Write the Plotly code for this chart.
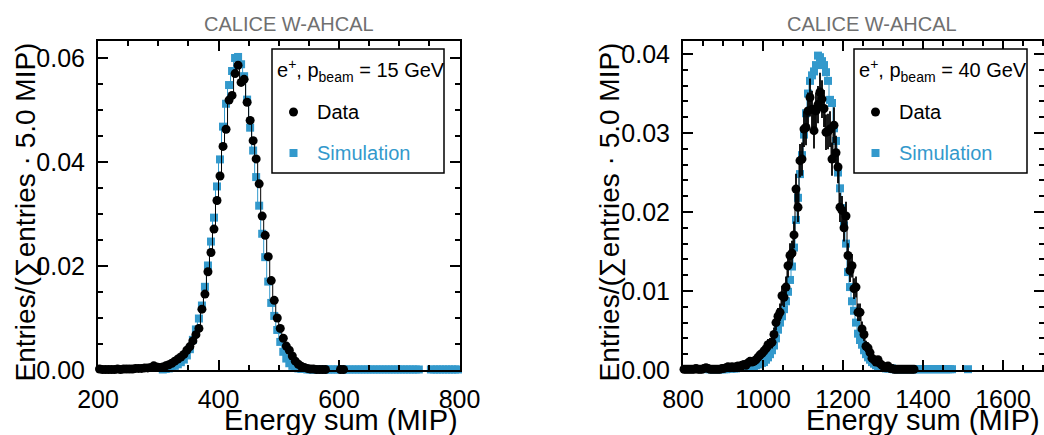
import numpy as np
import plotly.graph_objects as go

W, H = 1044, 435
BLUE = "#3399cc"
FONT = "Liberation Sans, Arial, Helvetica, sans-serif"

BIN_WIDTH = 5.0  # MIP per bin

# ---- e+ 15 GeV: normalised energy-sum spectra (bin centres 202.5 ... 797.5 MIP)
bins_15 = np.arange(202.5, 800.0, BIN_WIDTH)
data_15 = [
    0.0002, 0.0001, 0.0001, 0.0001, 0.0001, 0.0001, 0.0002, 0.0001, 0.0002, 0.0002,
    0.0002, 0.0002, 0.0003, 0.0003, 0.0003, 0.0004, 0.0004, 0.0005, 0.0008, 0.0006,
    0.0005, 0.0006, 0.0008, 0.0010, 0.0013, 0.0017, 0.0021, 0.0025, 0.0030, 0.0038,
    0.0045, 0.0056, 0.0068, 0.0080, 0.0117, 0.0146, 0.0189, 0.0226, 0.0271, 0.0326,
    0.0373, 0.0430, 0.0463, 0.0519, 0.0528, 0.0570, 0.0586, 0.0553, 0.0559, 0.0515,
    0.0480, 0.0441, 0.0406, 0.0358, 0.0296, 0.0259, 0.0218, 0.0172, 0.0134, 0.0100,
    0.0080, 0.0061, 0.0046, 0.0038, 0.0027, 0.0017, 0.0011, 0.0007, 0.0005, 0.0003,
    0.0002, 0.0002, 0.0001, 0.0001, 0.0001, 0.0001, None, None, None, None,
    0.0001, 0.0001, None, None, None, None, None, None, None, None,
    None, None, None, None, None, None, None, None, None, None,
    None, None, None, None, None, None, None, None, None, None,
    None, None, None, None, None, None, None, None, None, None,
]
sim_15 = [
    None, None, None, None, None, None, None, None, None, None,
    None, None, None, None, None, None, None, None, None, None,
    None, 0.0001, 0.0002, 0.0003, 0.0005, 0.0008, 0.0011, 0.0015, 0.0020, 0.0028,
    0.0040, 0.0058, 0.0078, 0.0099, 0.0124, 0.0160, 0.0201, 0.0247, 0.0293, 0.0353,
    0.0405, 0.0468, 0.0512, 0.0548, 0.0575, 0.0600, 0.0602, 0.0588, 0.0565, 0.0520,
    0.0466, 0.0422, 0.0371, 0.0316, 0.0262, 0.0217, 0.0170, 0.0129, 0.0104, 0.0077,
    0.0054, 0.0035, 0.0022, 0.0013, 0.0008, 0.0005, 0.0003, 0.0002, 0.0002, 0.0001,
    0.0001, 0.0001, 0.0001, 0.0001, 0.0001, 0.0001, 0.0001, 0.0001, 0.0001, 0.0001,
    0.0001, 0.0001, 0.0001, 0.0001, 0.0001, 0.0001, 0.0001, 0.0001, 0.0001, 0.0001,
    0.0001, 0.0001, 0.0001, 0.0001, 0.0001, 0.0001, 0.0001, 0.0001, 0.0001, 0.0001,
    0.0001, 0.0001, 0.0001, 0.0001, 0.0001, 0.0001, 0.0001, None, None, None,
    0.0001, 0.0001, 0.0001, 0.0001, 0.0001, 0.0001, 0.0001, 0.0001, 0.0001, 0.0001,
]

# ---- e+ 40 GeV: normalised energy-sum spectra (bin centres 802.5 ... 1697.5 MIP)
bins_40 = np.arange(802.5, 1700.0, BIN_WIDTH)
data_40 = [
    0.0001, 0.0001, 0.0001, 0.0001, 0.0001, 0.0001, 0.0002, 0.0001, 0.0001, 0.0001,
    0.0002, 0.0003, 0.0002, 0.0001, 0.0001, 0.0001, 0.0001, 0.0001, 0.0001, 0.0002,
    0.0002, 0.0003, 0.0004, 0.0003, 0.0004, 0.0003, 0.0004, 0.0005, 0.0004, 0.0006,
    0.0007, 0.0006, 0.0009, 0.0011, 0.0010, 0.0011, 0.0013, 0.0016, 0.0019, 0.0021,
    0.0024, 0.0027, 0.0032, 0.0033, 0.0035, 0.0045, 0.0060, 0.0068, 0.0073, 0.0094,
    0.0092, 0.0105, 0.0132, 0.0145, 0.0148, 0.0171, 0.0229, 0.0206, 0.0265, 0.0267,
    0.0305, 0.0307, 0.0328, 0.0345, 0.0330, 0.0303, 0.0328, 0.0336, 0.0352, 0.0343,
    0.0331, 0.0301, 0.0302, 0.0305, 0.0267, 0.0310, 0.0275, 0.0257, 0.0206, 0.0202,
    0.0180, 0.0195, 0.0145, 0.0126, 0.0132, 0.0103, 0.0105, 0.0073, 0.0073, 0.0052,
    0.0045, 0.0030, 0.0028, 0.0022, 0.0015, 0.0013, 0.0010, 0.0013, 0.0008, 0.0006,
    0.0004, 0.0003, 0.0005, 0.0002, 0.0002, 0.0001, 0.0001, 0.0001, 0.0001, 0.0001,
    0.0001, 0.0001, 0.0001, 0.0001, 0.0001, 0.0001, None, None, None, None,
] + [None] * 60
sim_40 = [
    None, None, None, None, None, None, None, None, None, None,
    None, None, 0.0001, 0.0001, 0.0001, 0.0001, 0.0001, 0.0001, 0.0001, 0.0001,
    0.0001, 0.0001, 0.0002, 0.0002, 0.0002, 0.0002, 0.0002, 0.0003, 0.0003, 0.0003,
    0.0003, 0.0004, 0.0004, 0.0004, 0.0005, 0.0005, 0.0006, 0.0007, 0.0008, 0.0009,
    0.0010, 0.0013, 0.0016, 0.0020, 0.0025, 0.0031, 0.0040, 0.0051, 0.0060, 0.0068,
    0.0077, 0.0087, 0.0099, 0.0114, 0.0131, 0.0155, 0.0190, 0.0218, 0.0248, 0.0272,
    0.0298, 0.0325, 0.0350, 0.0366, 0.0373, 0.0378, 0.0386, 0.0398, 0.0396, 0.0391,
    0.0386, 0.0377, 0.0366, 0.0342, 0.0338, 0.0306, 0.0290, 0.0250, 0.0230, 0.0205,
    0.0183, 0.0160, 0.0124, 0.0105, 0.0087, 0.0075, 0.0060, 0.0046, 0.0038, 0.0032,
    0.0025, 0.0020, 0.0016, 0.0013, 0.0010, 0.0008, 0.0006, 0.0005, 0.0004, 0.0003,
    0.0003, 0.0002, 0.0002, 0.0002, 0.0002, 0.0001, 0.0001, 0.0001, 0.0001, 0.0001,
    0.0001, 0.0001, 0.0001, 0.0001, 0.0001, 0.0001, 0.0001, 0.0001, 0.0001, 0.0001,
    0.0001, 0.0001, 0.0001, 0.0001, 0.0001, 0.0001, 0.0001, 0.0001, 0.0001, 0.0001,
    0.0001, 0.0001, 0.0001, 0.0001, 0.0001, None, None, None, None, None,
    None, None, 0.0001, None, None, None, None, None, None, None,
] + [None] * 30

# number of selected events (for the statistical uncertainty of the data)
N_EVENTS_15 = 150000
N_EVENTS_40 = 6000

panels = [
    dict(bins=bins_15, data=data_15, sim=sim_15, n=N_EVENTS_15, energy="15 GeV",
         xr=[200, 800], x0=200, yr=[0, 0.06327], ydt=0.02, yminor=0.005,
         dom=(98, 459.5), legend_x=(272, 444), title_x=288.5, xtitle_right=460,
         ytitle_x=25),
    dict(bins=bins_40, data=data_40, sim=sim_40, n=N_EVENTS_40, energy="40 GeV",
         xr=[800, 800 + (W - 683) / 0.4], x0=800, yr=[0, 0.04165], ydt=0.01, yminor=0.002,
         dom=(683, W), legend_x=(854, 1027), title_x=871.5, xtitle_right=1042,
         ytitle_x=609),
]

fig = go.Figure()
PLOT_TOP, PLOT_BOTTOM = 41, 370


def fx(p):
    return p / W


def fy(p):
    return 1 - p / H


annotations, shapes = [], []
for i, p in enumerate(panels):
    sfx = "" if i == 0 else str(i + 1)
    xa, ya = "x" + sfx, "y" + sfx
    err = [None if v is None else float(np.sqrt(v / p["n"])) for v in p["data"]]

    fig.add_trace(go.Scatter(
        x=p["bins"], y=p["sim"], xaxis=xa, yaxis=ya, mode="lines+markers",
        line=dict(color=BLUE, width=1, shape="hvh"), connectgaps=False,
        marker=dict(symbol="square", size=8, color=BLUE),
        cliponaxis=False, showlegend=False, name="Simulation"))
    fig.add_trace(go.Scatter(
        x=p["bins"], y=p["data"], xaxis=xa, yaxis=ya, mode="lines+markers",
        line=dict(color="black", width=1, shape="hvh"), connectgaps=False,
        marker=dict(symbol="circle", size=9, color="black"),
        error_y=dict(type="data", array=err, color="black", thickness=1.8, width=0),
        cliponaxis=False, showlegend=False, name="Data"))

    common = dict(showline=True, linewidth=2, linecolor="black", mirror="allticks",
                  ticks="inside", ticklen=10, tickwidth=1.5, tickcolor="black",
                  showgrid=False, zeroline=False, automargin=False,
                  tickfont=dict(family=FONT, size=25, color="black"))
    fig.update_layout(**{
        "xaxis" + sfx: dict(common, domain=[fx(p["dom"][0]), fx(p["dom"][1])],
                            range=p["xr"], tick0=p["x0"], dtick=200, anchor=ya,
                            ticklabelstandoff=6,
                            minor=dict(dtick=50, ticks="inside", ticklen=5,
                                       tickwidth=1.5, tickcolor="black")),
        "yaxis" + sfx: dict(common, domain=[fy(PLOT_BOTTOM), fy(PLOT_TOP)],
                            range=p["yr"], tick0=0, dtick=p["ydt"], tickformat=".2f",
                            anchor=xa, ticklabelstandoff=6,
                            minor=dict(dtick=p["yminor"], ticks="inside", ticklen=5,
                                       tickwidth=1.5, tickcolor="black")),
    })

    # panel header and axis titles
    annotations.append(dict(text="CALICE W-AHCAL", x=fx(p["title_x"]), y=fy(23.5),
                            xref="paper", yref="paper", xanchor="center",
                            yanchor="middle", showarrow=False,
                            font=dict(family=FONT, size=20, color="#707070")))
    annotations.append(dict(text="Energy sum (MIP)", x=fx(p["xtitle_right"]), y=fy(419.5),
                            xref="paper", yref="paper", xanchor="right", yanchor="middle",
                            showarrow=False, font=dict(family=FONT, size=29, color="black")))
    annotations.append(dict(text="Entries/(∑entries · 5.0 MIP)", x=fx(p["ytitle_x"]),
                            y=fy(41), xref="paper", yref="paper", xanchor="center",
                            yanchor="top", textangle=-90, showarrow=False,
                            font=dict(family=FONT, size=28, color="black")))

    # legend box
    bx0, bx1 = p["legend_x"]
    shapes.append(dict(type="rect", xref="paper", yref="paper", x0=fx(bx0), x1=fx(bx1),
                       y0=fy(173), y1=fy(49), line=dict(color="black", width=1.5),
                       fillcolor="white", layer="above"))
    annotations.append(dict(text="e<sup>+</sup>, p<sub>beam</sub> = " + p["energy"],
                            x=fx(bx0 + 3), y=fy(70), xref="paper", yref="paper",
                            xanchor="left", yanchor="middle", showarrow=False,
                            font=dict(family=FONT, size=20, color="black")))
    shapes.append(dict(type="circle", xref="paper", yref="paper",
                       x0=fx(bx0 + 17), x1=fx(bx0 + 26), y0=fy(116.5), y1=fy(107.5),
                       fillcolor="black", line=dict(width=0), layer="above"))
    shapes.append(dict(type="rect", xref="paper", yref="paper",
                       x0=fx(bx0 + 17.5), x1=fx(bx0 + 25.5), y0=fy(157), y1=fy(149),
                       fillcolor=BLUE, line=dict(width=0), layer="above"))
    annotations.append(dict(text="Data", x=fx(bx0 + 42.5), y=fy(112), xref="paper",
                            yref="paper", xanchor="left", yanchor="middle",
                            showarrow=False, font=dict(family=FONT, size=20, color="black")))
    annotations.append(dict(text="Simulation", x=fx(bx0 + 42.5), y=fy(153), xref="paper",
                            yref="paper", xanchor="left", yanchor="middle",
                            showarrow=False, font=dict(family=FONT, size=20, color=BLUE)))

fig.update_layout(width=W, height=H, margin=dict(l=0, r=0, t=0, b=0),
                  paper_bgcolor="white", plot_bgcolor="white",
                  annotations=annotations, shapes=shapes,
                  font=dict(family=FONT))
fig.write_html("out.html")
